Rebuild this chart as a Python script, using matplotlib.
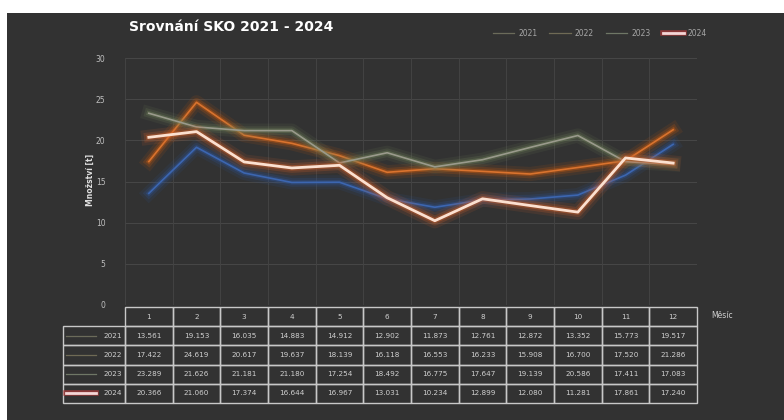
import numpy as np
import matplotlib.pyplot as plt
import matplotlib.patheffects as pe
from matplotlib.lines import Line2D

plt.rcParams.update({
    "font.family": "DejaVu Sans",
    "font.size": 6,
})

months = [str(m) for m in range(1, 13)]
years = ["2021", "2022", "2023", "2024"]

s2021 = [13.561, 19.153, 16.035, 14.883, 14.912, 12.902, 11.873, 12.761, 12.872, 13.352, 15.773, 19.517]
s2022 = [17.422, 24.619, 20.617, 19.637, 18.139, 16.118, 16.553, 16.233, 15.908, 16.700, 17.520, 21.286]
s2023 = [23.289, 21.626, 21.181, 21.180, 17.254, 18.492, 16.775, 17.647, 19.139, 20.586, 17.411, 17.083]
s2024 = [20.366, 21.060, 17.374, 16.644, 16.967, 13.031, 10.234, 12.899, 12.080, 11.281, 17.861, 17.240]
series = [s2021, s2022, s2023, s2024]

core = ["#3C66B0", "#D9732E", "#9A9A8C", "#FBE0D0"]
glow = ["#2F5597", "#C55A11", "#6E7F5A", "#D0602A"]
widths = [1.2, 1.2, 1.2, 2.0]
key_col = ["#6b6b5a", "#6f6a55", "#6f7766", "#F3D6D6"]

bg = "#323232"
W, H = 784, 420

fig = plt.figure(figsize=(W / 100, H / 100), dpi=100, facecolor="white")
# dark chart area (white strip on top and left like the screenshot)
fig.patches.append(plt.Rectangle((7 / W, 0), 1, 1 - 13 / H, transform=fig.transFigure,
                                 facecolor=bg, edgecolor="none", zorder=-10))

ax_l, ax_r, ax_t, ax_b = 125, 697, 58, 305
ax = fig.add_axes([ax_l / W, 1 - ax_b / H, (ax_r - ax_l) / W, (ax_b - ax_t) / H])
ax.set_facecolor("none")

x = np.arange(1, 13)
for i, (yr, vals) in enumerate(zip(years, series)):
    ax.plot(x, vals, color=core[i], lw=widths[i], solid_joinstyle="round", zorder=3 + i,
            path_effects=[pe.Stroke(linewidth=widths[i] + 9, foreground=glow[i], alpha=0.12),
                          pe.Stroke(linewidth=widths[i] + 5, foreground=glow[i], alpha=0.22),
                          pe.Stroke(linewidth=widths[i] + 2, foreground=glow[i], alpha=0.4),
                          pe.Normal()])

ax.set_xlim(0.5, 12.5)
ax.set_ylim(0, 30)
ax.set_yticks(range(0, 31, 5))
ax.set_xticks([])
ax.tick_params(axis="y", length=0, pad=14, labelsize=5.5, labelcolor="#bfbfbf")
for s in ax.spines.values():
    s.set_visible(False)
for yv in range(5, 31, 5):
    ax.axhline(yv, color="#474747", lw=0.7, zorder=0)
for xv in np.arange(0.5, 13, 1):
    ax.axvline(xv, color="#434343", lw=0.7, zorder=0)

# data table under the chart
left_px, top_px, bot_px = 63, 307, 403
rl = (left_px - ax_l) / (ax_r - ax_l)
tb = (ax_b - bot_px) / (ax_b - ax_t)
tt = (ax_b - top_px) / (ax_b - ax_t)
cell_text = [[yr] + [f"{v:,.3f}" for v in vals] for yr, vals in zip(years, series)]
lab_w = (ax_l - left_px) / (ax_r - ax_l)
col_w = [lab_w] + [1 / 12] * 12
tab = ax.table(cellText=cell_text, colLabels=[""] + months, colWidths=col_w,
               cellLoc="center", bbox=[rl, tb, 1 - rl, tt - tb])
tab.auto_set_font_size(False)
tab.set_fontsize(5.2)
for (r, c), cell in tab.get_celld().items():
    cell.set_facecolor("none")
    cell.set_edgecolor("#c8c8c8")
    cell.set_linewidth(1.0)
    cell.get_text().set_color("#d0d0d0")
    if r == 0 and c == 0:
        cell.visible_edges = ""
    if c == 0 and r > 0:
        cell.get_text().set_ha("right")
        cell._loc = "right"
        cell.PAD = 0.05

# legend keys inside the row-label cells
row_h = (tt - tb) / 5
for i in range(4):
    yc = tt - row_h * (i + 1.5)
    lw = 2.0 if i == 3 else 0.9
    eff = [pe.Stroke(linewidth=4, foreground="#B03A3A", alpha=0.7), pe.Normal()] if i == 3 else []
    ax.plot([rl + 0.006, rl + 0.058], [yc, yc], transform=ax.transAxes, clip_on=False,
            color=key_col[i], lw=lw, zorder=6, path_effects=eff)

fig.text(231 / W, 1 - 27 / H, "Srovnání SKO 2021 - 2024", color="white", fontsize=10,
         fontweight="bold", ha="center", va="center")
fig.text(90 / W, 1 - 180 / H, "Množství [t]", color="#e0e0e0", fontsize=5.5,
         fontweight="bold", rotation=90, ha="center", va="center")
fig.text(722 / W, 1 - 316 / H, "Měsíc", color="#d0d0d0", fontsize=5.5, ha="center",
         va="center")

handles = []
for i in range(4):
    if i == 3:
        h = Line2D([], [], color=key_col[i], lw=2.0,
                   path_effects=[pe.Stroke(linewidth=4, foreground="#B03A3A", alpha=0.7),
                                 pe.Normal()])
    else:
        h = Line2D([], [], color=key_col[i], lw=0.9)
    handles.append(h)
leg = fig.legend(handles, years, loc="center", bbox_to_anchor=(600 / W, 1 - 33 / H), ncol=4,
                 frameon=False, fontsize=5.5, handlelength=2.8, columnspacing=1.6,
                 handletextpad=0.5)
for t in leg.get_texts():
    t.set_color("#a6a6a6")

fig.savefig("out.png", dpi=100, facecolor=fig.get_facecolor())
